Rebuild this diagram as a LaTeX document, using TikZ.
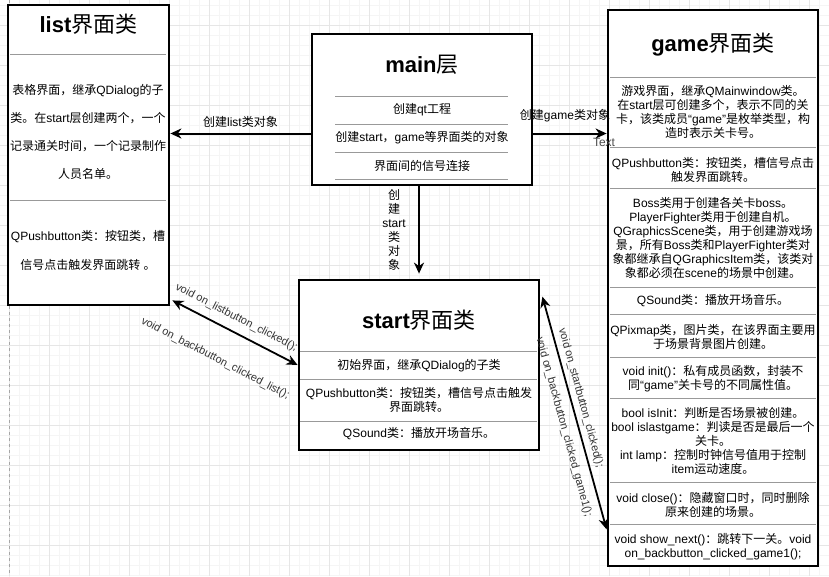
\documentclass[tikz,border=0pt]{standalone}
\usepackage{fontspec}
\setmainfont{Liberation Sans}
\newfontfamily\cjkfont{Noto Sans CJK SC}
% switch to the CJK family for Han characters and full-width punctuation
\XeTeXinterchartokenstate=1
\newXeTeXintercharclass\hanclass
\newcount\hancode
\def\sethanrange#1#2{\hancode=#1\relax
  \loop\XeTeXcharclass\hancode=\hanclass
  \ifnum\hancode<#2\advance\hancode by 1\repeat}
\sethanrange{"3000}{"303F}
\sethanrange{"4E00}{"9FFF}
\sethanrange{"FF00}{"FFEF}
\XeTeXinterchartoks 0 \hanclass = {\cjkfont}
\XeTeXinterchartoks 4095 \hanclass = {\cjkfont}
\XeTeXinterchartoks \hanclass 0 = {\rmfamily}
\XeTeXinterchartoks \hanclass 4095 = {\rmfamily}
\usepackage{xcolor}
\usepackage{tikz}
\usetikzlibrary{positioning}
\usetikzlibrary{shapes, arrows.meta}
\definecolor{minorgrid}{HTML}{F5F5F5}
\definecolor{majorgrid}{HTML}{E6E6E6}
\tikzstyle{line} = [draw, -{Stealth[length=11pt, width=10pt, inset=3.5pt]}, line width=2pt]
\tikzstyle{dline} = [draw, {Stealth[length=11pt, width=10pt, inset=3.5pt]}-{Stealth[length=11pt, width=10pt, inset=3.5pt]}, line width=1.8pt]

\begin{document}
\begin{tikzpicture}[x=1pt, y=-1pt,
		box/.style={draw, line width=2.8pt, fill=white, inner sep=0pt},
		titletext/.style={font=\fontsize{22}{26}\selectfont},
		bodytext/.style={align=center, font=\fontsize{12}{14}\selectfont},
		lbl/.style={font=\fontsize{11}{13}\selectfont, text=black!80, inner sep=1pt},
		sepline/.style={draw=black!40, line width=1pt}]
			\useasboundingbox (0,0) rectangle (829,576);
			\fill[white] (0,0) rectangle (829,576);
			\foreach \gx in {9,19,...,829} \draw[minorgrid, line width=1pt] (\gx,0) -- (\gx,576);
			\foreach \gy in {5,15,...,575} \draw[minorgrid, line width=1pt] (0,\gy) -- (829,\gy);
			\foreach \gx in {9,49,...,829} \draw[majorgrid, line width=1pt] (\gx,0) -- (\gx,576);
			\foreach \gy in {25,65,...,575} \draw[majorgrid, line width=1pt] (0,\gy) -- (829,\gy);
			\draw[black!35, dashed, line width=0.8pt] (9,0) -- (9,576);
			
			\node[box, minimum width=161pt, minimum height=300pt] at (88.5, 155) (list) {};
			\node[box, minimum width=220pt, minimum height=151pt] at (422, 109.5) (main) {};
			\node[box, minimum width=240pt, minimum height=170pt] at (419, 365) (start) {};
			\node[box, minimum width=210pt, minimum height=556pt] at (713, 288) (game) {};
			
			% list
			\node[titletext] at (88.5, 24) (list-t) {{\bfseries list}界面类};
			\foreach \sy in {54, 200} \draw[sepline] (10, \sy) -- (166, \sy);
			\node[bodytext, font=\fontsize{12}{28}\selectfont] at (88, 132) (list-1) {表格界面，继承QDialog的子\\类。在start层创建两个，一个\\记录通关时间，一个记录制作\\人员名单。};
			\node[bodytext, font=\fontsize{12}{29}\selectfont] at (88, 250.5) (list-2) {QPushbutton类：按钮类，槽\\信号点击触发界面跳转 。};
			
			% main
			\node[titletext] at (422, 65) (main-t) {{\bfseries main}层};
			\foreach \sy in {96, 124, 152, 179} \draw[sepline] (335, \sy) -- (508, \sy);
			\node[bodytext] at (422, 110) (main-1) {创建qt工程};
			\node[bodytext] at (422, 138) (main-2) {创建start，game等界面类的对象};
			\node[bodytext] at (422, 166) (main-3) {界面间的信号连接};
			
			% start
			\node[titletext] at (419, 320) (start-t) {{\bfseries start}界面类};
			\foreach \sy in {351, 379, 421} \draw[sepline] (300, \sy) -- (537, \sy);
			\node[bodytext] at (419, 366) (start-1) {初始界面，继承QDialog的子类};
			\node[bodytext] at (419, 400) (start-2) {QPushbutton类：按钮类，槽信号点击触发\\界面跳转。};
			\node[bodytext] at (419, 434) (start-3) {QSound类：播放开场音乐。};
			
			% game
			\node[titletext] at (713, 45) (game-t) {{\bfseries game}界面类};
			\foreach \sy in {77, 147, 188, 287, 314, 357, 398, 482, 524} \draw[sepline] (610, \sy) -- (816, \sy);
			\node[bodytext] at (713, 112) (game-1) {游戏界面，继承QMainwindow类。\\在start层可创建多个，表示不同的关\\卡，该类成员“game”是枚举类型，构\\造时表示关卡号。};
			\node[bodytext] at (713, 170) (game-2) {QPushbutton类：按钮类，槽信号点击\\触发界面跳转。};
			\node[bodytext] at (713, 238) (game-3) {Boss类用于创建各关卡boss。\\PlayerFighter类用于创建自机。\\QGraphicsScene类，用于创建游戏场\\景，所有Boss类和PlayerFighter类对\\象都继承自QGraphicsItem类，该类对\\象都必须在scene的场景中创建。};
			\node[bodytext] at (713, 300.5) (game-4) {QSound类：播放开场音乐。};
			\node[bodytext] at (713, 337) (game-5) {QPixmap类，图片类，在该界面主要用\\于场景背景图片创建。};
			\node[bodytext] at (713, 378.5) (game-6) {void init()：私有成员函数，封装不\\同“game”关卡号的不同属性值。};
			\node[bodytext] at (713, 441) (game-7) {bool isInit：判断是否场景被创建。\\bool islastgame：判读是否是最后一个\\关卡。\\int lamp：控制时钟信号值用于控制\\item运动速度。};
			\node[bodytext] at (713, 504.5) (game-8) {void close()：隐藏窗口时，同时删除\\原来创建的场景。};
			\node[bodytext] at (713, 546.5) (game-9) {void show\_next()：跳转下一关。void\\on\_backbutton\_clicked\_game1();};
			
			% connectors
			\path[line] ([yshift=-24pt]main.west) -- ([yshift=-24pt]main.west -| list.east) node[midway, above=2pt, bodytext] {创建list类对象};
			\path[line] ([yshift=-24pt]main.east) -- ([yshift=-24pt]main.east -| game.west) node[midway, above=7pt, xshift=-5pt, bodytext] {创建game类对象};
			\path[line] (main.south -| start.north) -- ([yshift=5pt]start.north) node[midway, left=9pt, bodytext] {创\\建\\start\\类\\对\\象};
			\path[dline] ([xshift=2pt, yshift=6pt]list.south east) -- (start.west)
				node[pos=0.46, sloped, above=7pt, lbl] {void on\_listbutton\_clicked();}
				node[pos=0.46, sloped, below=25pt, lbl] {void on\_backbutton\_clicked\_list();};
			\path[dline] ([xshift=2pt, yshift=-18pt]start.north east) -- ([yshift=38pt]game.south west)
				node[pos=0.447, sloped, above=3pt, lbl] {void on\_startbutton\_clicked();}
				node[pos=0.545, sloped, below=7pt, lbl] {void on\_backbutton\_clicked\_game1();};
			\node[lbl, font=\fontsize{12}{14}\selectfont, text=black!70] at (604, 142) (txt) {Text};
			
\end{tikzpicture}
\end{document}
